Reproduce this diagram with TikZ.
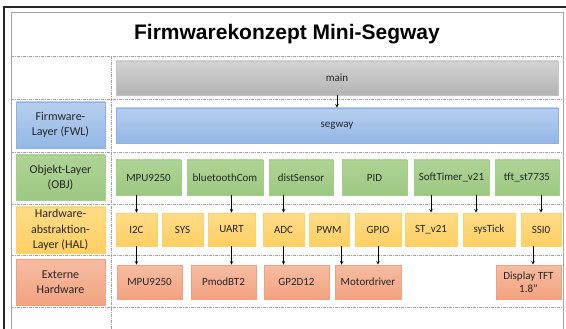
\documentclass[tikz,border=0pt]{standalone}
\usepackage{fontspec}
\setmainfont{Carlito}
\newfontfamily\titlefont{Liberation Sans}
\usetikzlibrary{positioning}

\definecolor{graytop}{HTML}{D4D4D4}
\definecolor{graybot}{HTML}{B3B3B3}
\definecolor{grayline}{HTML}{C4C4C4}
\definecolor{bluetop}{HTML}{B6CFEF}
\definecolor{bluebot}{HTML}{94B7E5}
\definecolor{blueline}{HTML}{8DB1E2}
\definecolor{greentop}{HTML}{AFD496}
\definecolor{greenbot}{HTML}{9CC881}
\definecolor{greenline}{HTML}{A3CD88}
\definecolor{yellowtop}{HTML}{FFDC88}
\definecolor{yellowbot}{HTML}{FFD063}
\definecolor{yellowline}{HTML}{FFD166}
\definecolor{salmtop}{HTML}{F7BCA2}
\definecolor{salmbot}{HTML}{F2A381}
\definecolor{salmline}{HTML}{F0A07E}
\definecolor{frameline}{HTML}{A6A6A6}
\definecolor{dashline}{HTML}{A0A0A0}
\definecolor{boxtext}{HTML}{262626}

\begin{document}
\begin{tikzpicture}[x=1pt,y=-1pt]
  \tikzstyle{mybox}=[draw, line width=0.8pt, inner sep=1pt, text=boxtext, font=\fontsize{11}{13}\selectfont]
  \tikzstyle{mygray}=[mybox, draw=grayline, top color=graytop, bottom color=graybot]
  \tikzstyle{myblue}=[mybox, draw=blueline, top color=bluetop, bottom color=bluebot]
  \tikzstyle{mygreen}=[mybox, draw=greenline, top color=greentop, bottom color=greenbot, minimum height=35pt]
  \tikzstyle{myyellow}=[mybox, draw=yellowline, top color=yellowtop, bottom color=yellowbot, minimum height=33pt]
  \tikzstyle{mysalm}=[mybox, draw=salmline, top color=salmtop, bottom color=salmbot, minimum height=34pt]
  \tikzstyle{mylayer}=[align=center, minimum width=89pt, minimum height=46pt, font=\fontsize{12}{15.5}\selectfont]
  \tikzstyle{myrow}=[draw=dashline, line width=0.8pt, dash pattern=on 3pt off 1pt on 1pt off 1pt]
  \tikzstyle{myarrow}=[-stealth, line width=0.6pt, black]

  \useasboundingbox (0,0) rectangle (566,329);

  % frame and grid
  \draw[line width=1.2pt, black!85] (4,329) -- (4,7) -- (566,7);
  \draw[line width=0.8pt, frameline] (11,329) -- (11,12) -- (563,12) -- (563,329);
  \foreach \y in {56,99,152,204,255,307}
    \draw[myrow] (11,\y) -- (563,\y);
  \draw[myrow] (111,56) -- (111,329);

  \node[font=\titlefont\bfseries\fontsize{21}{24}\selectfont] (title) at (287,34) {Firmwarekonzept Mini-Segway};

  % layer labels
  \node[myblue, mylayer] (fwl) at (60.5,125) {Firmware-\\Layer (FWL)};
  \node[mygreen, mylayer, minimum height=45pt] (obj) at (60.5,177.5) {Objekt-Layer\\(OBJ)};
  \node[myyellow, mylayer] (hal) at (60.5,230) {Hardware-\\abstraktion-\\Layer (HAL)};
  \node[mysalm, mylayer] (ext) at (60.5,282) {Externe\\Hardware};

  % main / firmware
  \node[mygray, minimum width=442pt, minimum height=34pt] (main) at (337,78) {main};
  \node[myblue, minimum width=442pt, minimum height=35pt] (segway) at (337,125.5) {segway};

  % objekt layer
  \node[mygreen, minimum width=65pt] (mpuO) at (148.5,177.5) {MPU9250};
  \node[mygreen, minimum width=76pt] (btcom) at (225,177.5) {bluetoothCom};
  \node[mygreen, minimum width=64pt] (dist) at (301,177.5) {distSensor};
  \node[mygreen, minimum width=65pt] (pid) at (374.5,177.5) {PID};
  \node[mygreen, minimum width=75pt] (soft) at (451.5,177.5) {SoftTimer\_v21};
  \node[mygreen, minimum width=64pt] (tft) at (527,177.5) {tft\_st7735};

  % hardware abstraction layer
  \node[myyellow, minimum width=41pt] (itwoc) at (136.5,229.5) {I2C};
  \node[myyellow, minimum width=41pt] (sys) at (182.5,229.5) {SYS};
  \node[myyellow, minimum width=47pt] (uart) at (231.5,229.5) {UART};
  \node[myyellow, minimum width=41pt] (adc) at (283.5,229.5) {ADC};
  \node[myyellow, minimum width=40pt] (pwm) at (329,229.5) {PWM};
  \node[myyellow, minimum width=46pt] (gpio) at (378,229.5) {GPIO};
  \node[myyellow, minimum width=52pt] (stv) at (431,229.5) {ST\_v21};
  \node[myyellow, minimum width=52pt] (tick) at (489,229.5) {sysTick};
  \node[myyellow, minimum width=40pt] (ssi) at (541,229.5) {SSI0};

  % externe hardware
  \node[mysalm, minimum width=65pt] (mpuH) at (149.5,282) {MPU9250};
  \node[mysalm, minimum width=65pt] (pmod) at (223.5,282) {PmodBT2};
  \node[mysalm, minimum width=65pt] (gp) at (296.5,282) {GP2D12};
  \node[mysalm, minimum width=66pt] (motor) at (368,282) {Motordriver};
  \node[mysalm, minimum width=65pt, align=center] (disp) at (528.5,282) {Display TFT\\1.8\char"22};

  % connections
  \coordinate (tickin) at ([xshift=-13pt]tick.north);
  \coordinate (motin) at ([xshift=7pt]motor.north west);
  \coordinate (dispin) at ([xshift=4.5pt]disp.north);

  \draw[myarrow] (main) -- (segway);
  \draw[myarrow] (mpuO.south -| itwoc) -- (itwoc);
  \draw[myarrow] (btcom.south -| uart) -- (uart);
  \draw[myarrow] (dist.south -| adc) -- (adc);
  \draw[myarrow] (soft.south -| stv) -- (stv);
  \draw[myarrow] (soft.south -| tickin) -- (tickin);
  \draw[myarrow] (tft.south -| ssi) -- (ssi);
  \draw[myarrow] (itwoc) -- (itwoc |- mpuH.north);
  \draw[myarrow] (uart) -- (uart |- pmod.north);
  \draw[myarrow] (adc) -- (adc |- gp.north);
  \draw[myarrow] (pwm.south -| motin) -- (motin);
  \draw[myarrow] (gpio) -- (gpio |- motor.north);
  \draw[myarrow] (ssi.south -| dispin) -- (dispin);
\end{tikzpicture}
\end{document}
